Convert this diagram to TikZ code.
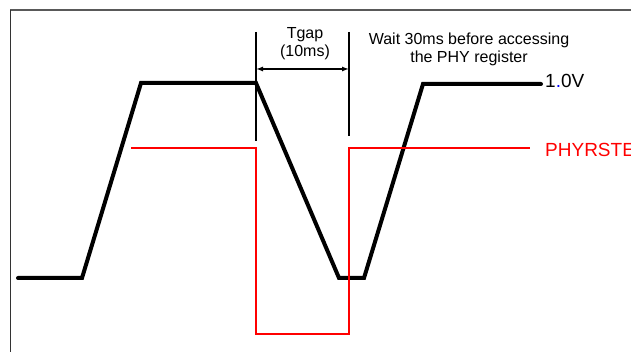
\documentclass[tikz,border=0pt]{standalone}
\usepackage{fontspec}
\setmainfont{Liberation Sans}
\usetikzlibrary{arrows.meta}

\begin{document}
\begin{tikzpicture}
[x=1pt, y=-1pt,
    wave/.style={draw=black, line width=4pt, line join=miter, line cap=round},
    rst/.style={draw=red, line width=2pt},
    marker/.style={draw=black, line width=1.8pt},
    gaparrow/.style={{Latex[length=7pt,width=5pt]}-{Latex[length=7pt,width=5pt]}, line width=1.3pt},
    note/.style={font=\fontsize{16}{18.5}\selectfont, align=center, inner sep=0pt, anchor=north},
    sig/.style={font=\fontsize{19}{22}\selectfont, inner sep=0pt, anchor=base west}
    ]
    \useasboundingbox (0,0) rectangle (631,352);

    % frame
    \draw[black!65, line width=1.3pt] (10,10) -- (631,10);
    \draw[black!80, line width=1.3pt] (10.5,10) -- (10.5,352);

    % supply ramp
    \draw[wave] (18,278) -- (82,278) -- (141,83) -- (256,83) -- (339,278)
        -- (364,278) -- (423,84) -- (541,84);
    \node[sig] (vdd) at (545,87.3) {1\textcolor{blue}{.}0V};

    % reset
    \draw[rst] (131,148.5) -- (256,148.5) -- (256,334) -- (349,334)
        -- (349,148.5) -- (530,148.5);
    \node[sig, red] (rstlbl) at (545,157) {PHYRSTE};

    % gap markers
    \coordinate (gapA) at (256,32);
    \coordinate (gapB) at (349,32);
    \coordinate (tgapL) at (256,69);
    \coordinate (tgapR) at (349,69);
    \draw[marker] (gapA) -- ++(0,109);
    \draw[marker] (gapB) -- ++(0,104);
    \draw[gaparrow] (tgapL) -- (tgapR);

    \node[note] (tgap) at (305,26.8) {Tgap\\(10ms)};
    \node[note] (wait) at (469,32.3) {Wait 30ms before accessing\\the PHY register};
\end{tikzpicture}
\end{document}
